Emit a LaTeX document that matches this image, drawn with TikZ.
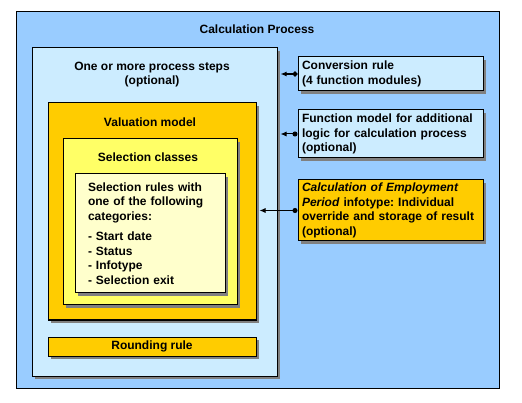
\documentclass[tikz,border=0pt]{standalone}
\usepackage{fontspec}
\setmainfont{Liberation Sans}
\usetikzlibrary{shadows,arrows.meta,calc}
\definecolor{outerblue}{HTML}{99CCFF}
\definecolor{lightblue}{HTML}{CCECFF}
\definecolor{gold}{HTML}{FFCC00}
\definecolor{ylw}{HTML}{FFFF66}
\definecolor{paleylw}{HTML}{FFFFCC}
\frenchspacing
\begin{document}
\begin{tikzpicture}[x=1pt,y=-1pt,
  font=\fontsize{12}{14.5}\selectfont\bfseries\frenchspacing,
  box/.style={draw=black, line width=1pt, inner sep=0pt},
  shadowed/.style={drop shadow={shadow xshift=3pt, shadow yshift=-3pt, fill=black!50, opacity=1}},
  sidebox/.style={box, shadowed, minimum width=185pt, text width=177pt, inner xsep=4pt, align=left},
  conn/.style={line width=1pt, {Circle[length=5pt]}-{Latex[length=6pt,width=5pt]}}
]
\useasboundingbox (0,0) rectangle (522,403);
\node[box, fill=outerblue, minimum width=483pt, minimum height=376pt] (outer) at (257.5,200) {};
\node (tcalc) at (257,29) {Calculation Process};

\node[box, shadowed, fill=lightblue, minimum width=245pt, minimum height=328pt] (steps) at (154.5,212) {};
\node[align=center] (tsteps) at (152,74.5) {One or more process steps\\(optional)};

\node[box, shadowed, fill=gold, minimum width=208pt, minimum height=217pt] (val) at (152,211.5) {};
\node (tval) at (150,122) {Valuation model};

\node[box, shadowed, fill=ylw, minimum width=174pt, minimum height=166pt] (selc) at (150,222) {};
\node (tselc) at (148,157) {Selection classes};

\node[box, shadowed, fill=paleylw, minimum width=150pt, minimum height=119pt,
      text width=124pt, inner xsep=13pt, align=left] (selr) at (150,233.5)
  {Selection rules with\\one of the following\\categories:\\[6pt]- Start date\\- Status\\- Infotype\\- Selection exit};

\node[box, shadowed, fill=gold, minimum width=208pt, minimum height=19pt] (round) at (152,346.5) {Rounding rule};

\node[sidebox, fill=lightblue, minimum height=34pt] (conv) at (390.5,74) {Conversion rule\\(4 function modules)};
\node[sidebox, fill=lightblue, minimum height=48pt] (func) at (390.5,134) {Function model for additional\\logic for calculation process\\(optional)};
\node[sidebox, fill=gold, minimum height=61pt] (calcbox) at (390.5,210.5)
  {\textit{Calculation of Employment}\\\textit{Period} infotype: Individual\\override and storage of result\\(optional)};

\draw[conn, line width=2pt] (conv.west) -- ($(conv.west -| steps.east)+(3,0)$);
\draw[conn] (func.west) -- ($(func.west -| steps.east)+(3,0)$);
\draw[conn] (calcbox.west) -- ($(calcbox.west -| val.east)+(3,0)$);
\end{tikzpicture}
\end{document}
